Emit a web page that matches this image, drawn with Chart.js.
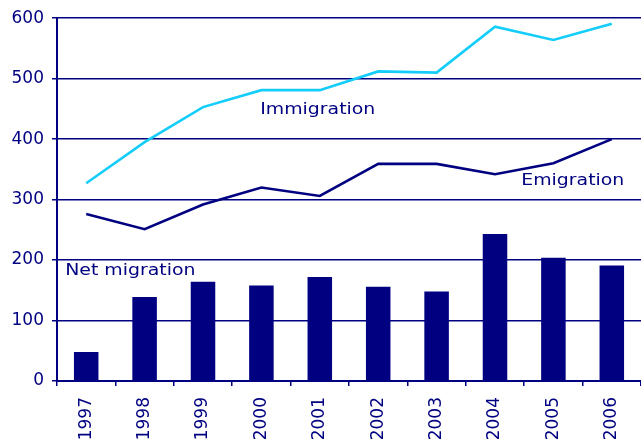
<!DOCTYPE html>
<html>
<head>
<meta charset="utf-8">
<script src="https://cdn.jsdelivr.net/npm/chart.js@4/dist/chart.umd.min.js"></script>
<style>
  html, body { margin: 0; padding: 0; background: #fff; }
  #wrap { width: 641px; height: 442px; }
</style>
</head>
<body>
<div id="wrap"><canvas id="myChart" width="641" height="442"></canvas></div>
<script>
const years = ["1997", "1998", "1999", "2000", "2001", "2002", "2003", "2004", "2005", "2006"];
const immigration = [327, 395, 453, 481, 481, 512, 510, 586, 564, 591];
const emigration = [276, 251, 292, 320, 306, 359, 359, 342, 360, 400];
const netMigration = [48, 139, 164, 158, 172, 156, 148, 243, 204, 191];

const navy = "#000080";
const sky = "#14cdfa";
const fontFamily = "'DejaVu Sans', Verdana, sans-serif";

// series names written inside the plot; x is in category steps, y in data units
const seriesLabels = [
    { text: "Immigration", x: 2.98, y: 448 },
    { text: "Emigration", x: 7.45, y: 331 },
    { text: "Net migration", x: -0.36, y: 183 },
];

const labelPlugin = {
    id: "seriesLabels",
    afterDatasetsDraw(chart) {
        const ctx = chart.ctx;
        const xs = chart.scales.x;
        const ys = chart.scales.y;
        const step = xs.getPixelForValue(1) - xs.getPixelForValue(0);
        ctx.save();
        ctx.font = "16px " + fontFamily;
        ctx.fillStyle = navy;
        ctx.textAlign = "left";
        ctx.textBaseline = "middle";
        seriesLabels.forEach(l => {
            const px = xs.getPixelForValue(0) + l.x * step;
            const py = ys.getPixelForValue(l.y);
            ctx.save();
            ctx.translate(px, py);
            ctx.scale(1.18, 1);  // wide Verdana-like lettering
            ctx.fillText(l.text, 0, 0);
            ctx.restore();
        });
        ctx.restore();
    }
};

const ctx = document.getElementById("myChart").getContext("2d");
const myChart = new Chart(ctx, {
    type: "bar",
    data: {
        labels: years,
        datasets: [
            {
                type: "line",
                label: "Immigration",
                data: immigration,
                borderColor: sky,
                borderWidth: 2.6,
                pointRadius: 0,
                tension: 0,
                order: 1,
            },
            {
                type: "line",
                label: "Emigration",
                data: emigration,
                borderColor: navy,
                borderWidth: 2.6,
                pointRadius: 0,
                tension: 0,
                order: 2,
            },
            {
                label: "Net migration",
                data: netMigration,
                backgroundColor: navy,
                barPercentage: 0.42,
                categoryPercentage: 1,
                order: 3,
            },
        ],
    },
    options: {
        responsive: false,
        animation: false,
        layout: { padding: { top: 18, right: 0, left: 0, bottom: 0 } },
        plugins: {
            legend: { display: false },
            tooltip: { enabled: false },
        },
        scales: {
            x: {
                offset: true,
                afterFit(scale) {
                    scale.height = 61;
                    // let the plot run right up to the canvas edge
                    scale.paddingLeft = 0;
                    scale.paddingRight = 0;
                },
                grid: {
                    offset: true,
                    drawOnChartArea: false,
                    color: navy,
                    lineWidth: 1.5,
                    tickLength: 5,
                },
                border: { color: navy, width: 2 },
                ticks: {
                    color: navy,
                    font: { family: fontFamily, size: 17 },
                    minRotation: 90,
                    maxRotation: 90,
                    padding: 11,
                },
            },
            y: {
                min: 0,
                max: 600,
                afterFit(scale) { scale.width = 57; },
                grid: {
                    color: navy,
                    lineWidth: 1.5,
                    tickLength: 5,
                },
                border: { color: navy, width: 2 },
                ticks: {
                    stepSize: 100,
                    color: navy,
                    font: { family: fontFamily, size: 17 },
                    padding: 8,
                },
            },
        },
    },
    plugins: [labelPlugin],
});
</script>
</body>
</html>
